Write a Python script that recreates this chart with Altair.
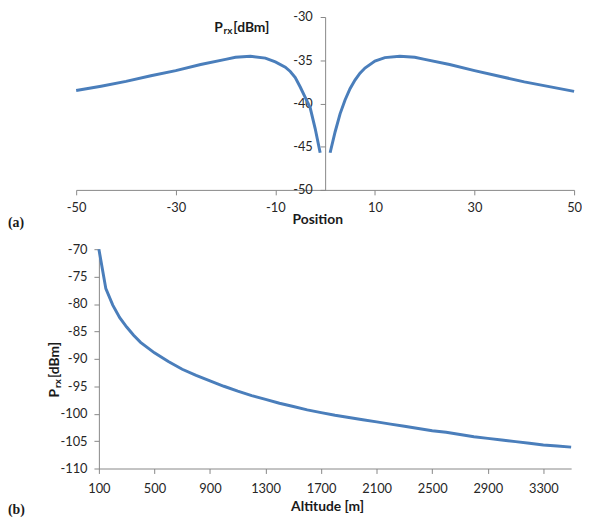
import altair as alt
import pandas as pd

# ---------------- data: panel (a) ----------------
pos_left = [-50, -45, -40, -35, -30, -25, -20, -18, -15, -12, -10, -8, -7, -6, -5, -4, -3, -2, -1]
prx_left = [-38.5, -38.0, -37.45, -36.8, -36.2, -35.5, -34.9, -34.65, -34.55, -34.75, -35.2,
            -35.8, -36.3, -37.0, -38.1, -39.3, -40.5, -42.9, -45.7]
pos_right = [1, 2, 3, 4, 5, 6, 7, 8, 10, 12, 15, 18, 20, 25, 30, 35, 40, 45, 50]
prx_right = [-45.7, -43.3, -41.2, -39.6, -38.3, -37.3, -36.5, -35.9, -35.1, -34.7, -34.55,
             -34.65, -34.9, -35.5, -36.2, -36.85, -37.5, -38.05, -38.6]

# ---------------- data: panel (b) ----------------
altitude = [100, 150, 200, 250, 300, 350, 400, 500, 600, 700, 800, 900, 1000, 1100, 1200,
            1300, 1400, 1500, 1600, 1700, 1800, 1900, 2000, 2100, 2200, 2300, 2400, 2500,
            2600, 2700, 2800, 2900, 3000, 3100, 3200, 3300, 3400, 3500]
prx_alt = [-70.0, -77.2, -80.2, -82.5, -84.2, -85.7, -87.0, -88.9, -90.5, -91.9, -93.0, -94.0,
           -95.0, -95.9, -96.7, -97.4, -98.1, -98.7, -99.3, -99.8, -100.3, -100.7, -101.1,
           -101.5, -101.9, -102.3, -102.7, -103.1, -103.4, -103.8, -104.2, -104.5, -104.8,
           -105.1, -105.4, -105.7, -105.9, -106.1]

top_x_ticks = [-50, -30, -10, 10, 30, 50]
top_y_ticks = [-50, -45, -40, -35, -30]
bot_x_ticks = [100, 500, 900, 1300, 1700, 2100, 2500, 2900, 3300]
bot_y_ticks = [-110, -105, -100, -95, -90, -85, -80, -75, -70]

df_top = pd.DataFrame({
    "position": pos_left + pos_right,
    "prx": prx_left + prx_right,
    "side": ["L"] * len(pos_left) + ["R"] * len(pos_right),
})
df_bot = pd.DataFrame({"altitude": altitude, "prx": prx_alt})

BLUE = "#4A7EBB"
AX = dict(grid=False, domainColor="#868686", tickColor="#868686", tickSize=5,
          labelFont="Lato", labelFontSize=13, labelColor="#262626",
          labelFlush=False, labelOverlap=False, labelExpr="datum.value + ''",
          titleFont="Lato", titleFontSize=14, titleFontWeight="bold", titleColor="#1a1a1a")


def txt(text, x, y, size, weight="bold", font="Lato", angle=0, baseline="alphabetic"):
    return alt.Chart(pd.DataFrame({"t": [text]})).mark_text(
        font=font, fontSize=size, fontWeight=weight, align="left",
        baseline=baseline, angle=angle, color="#1a1a1a"
    ).encode(text="t:N", x=alt.value(x), y=alt.value(y))


# ---------------- panel (a) ----------------
top_line = alt.Chart(df_top).mark_line(color=BLUE, strokeWidth=3).encode(
    x=alt.X("position:Q",
            scale=alt.Scale(domain=[-50, 50], nice=False, zero=False),
            axis=alt.Axis(values=top_x_ticks, title="Position", titleX=244, titleY=34,
                          titleBaseline="alphabetic", titleAlign="center",
                          labelPadding=7, **AX)),
    y=alt.Y("prx:Q",
            scale=alt.Scale(domain=[-50, -30], nice=False, zero=False),
            axis=alt.Axis(values=top_y_ticks, title=None, offset=-252,
                          labelPadding=8, **AX)),
    detail="side:N",
)

top = alt.layer(
    top_line,
    txt("P", 139.7, 15.5, 14),
    txt("rx", 149.2, 17.4, 10),
    txt("[dBm]", 159, 15.5, 14),
    txt("(a)", -69, 208.5, 14, font="Liberation Serif", baseline="middle"),
).properties(width=504, height=175)

# ---------------- panel (b) ----------------
bot_line = alt.Chart(df_bot).mark_line(color=BLUE, strokeWidth=3).encode(
    x=alt.X("altitude:Q",
            scale=alt.Scale(domain=[100, 3500], range=[23, 501], nice=False, zero=False),
            axis=alt.Axis(values=bot_x_ticks, title="Altitude [m]", titleX=254, titleY=43,
                          titleBaseline="alphabetic", titleAlign="center",
                          labelPadding=9, **AX)),
    y=alt.Y("prx:Q",
            scale=alt.Scale(domain=[-110, -70], nice=False, zero=False),
            axis=alt.Axis(values=bot_y_ticks, title=None, offset=-23,
                          labelPadding=7, **AX)),
)

bottom = alt.layer(
    bot_line,
    txt("P", -17, 150, 14, angle=270),
    txt("rx", -15.2, 140.5, 10, angle=270),
    txt("[dBm]", -17, 130.5, 14, angle=270),
    txt("(b)", -69, 264.2, 14, font="Liberation Serif", baseline="middle"),
).properties(width=501, height=222)

chart = alt.vconcat(top, bottom, spacing=13).properties(
    padding={"left": 0, "top": 0, "right": 0, "bottom": 0}
).configure_view(stroke=None)

chart.save("out.html", embed_options={"renderer": "svg", "actions": False})
